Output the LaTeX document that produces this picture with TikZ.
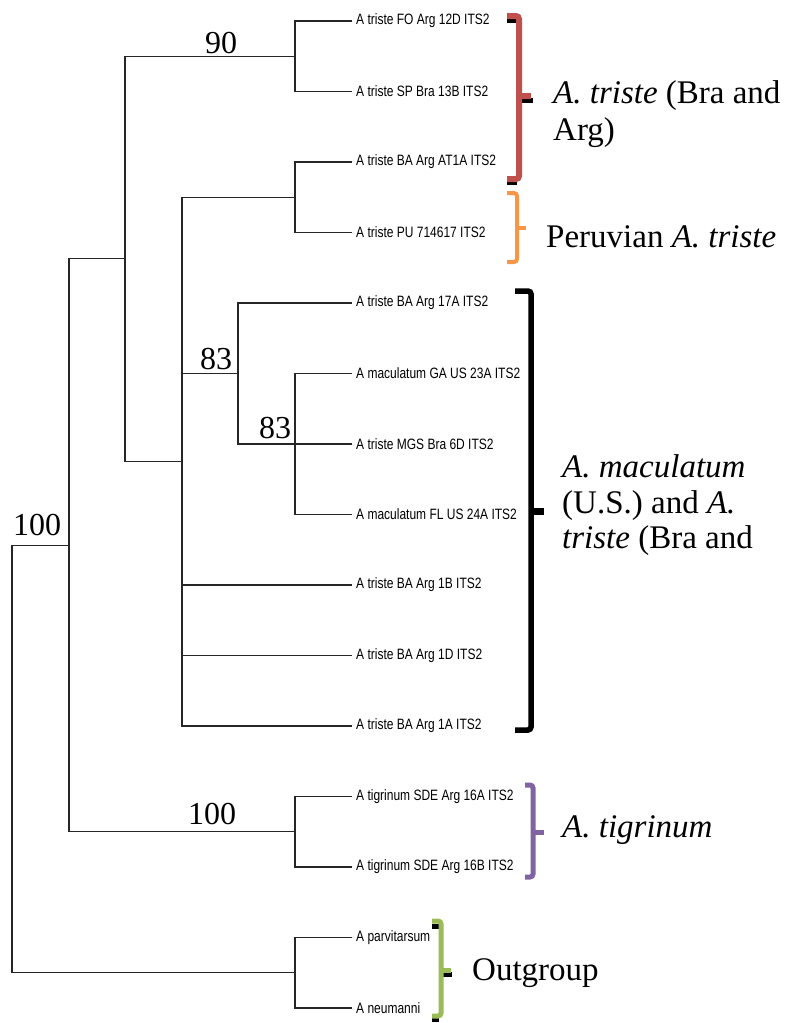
\documentclass[tikz,border=0pt]{standalone}
\usepackage{fontspec}
\setmainfont{Liberation Serif}
\newfontfamily\leaffont[FakeStretch=0.8]{Liberation Sans}
\definecolor{cred}{HTML}{C0504D}
\definecolor{corange}{HTML}{F79646}
\definecolor{cpurple}{HTML}{8064A2}
\definecolor{cgreen}{HTML}{9BBB59}
\tikzset{
  branch/.style={line width=1.1pt, draw=black!85},
  leaf/.style={anchor=west, inner sep=4pt, font=\leaffont\fontsize{15}{18}\selectfont},
  support/.style={anchor=base west, inner sep=0pt, font=\fontsize{32}{36}\selectfont},
  grouplabel/.style={anchor=base west, inner sep=0pt, font=\fontsize{33}{37}\selectfont},
  brk/.style={line width=5pt, rounded corners=3pt},
  shadowbrk/.style={brk, draw=black, yshift=-3pt}
}
\begin{document}
\begin{tikzpicture}[x=1pt,y=-1pt]
\useasboundingbox (0,0) rectangle (788,1023);
% leaves
\node[leaf] (l1)  at (352,21)    {A triste FO Arg 12D ITS2};
\node[leaf] (l2)  at (352,91.5)  {A triste SP Bra 13B ITS2};
\node[leaf] (l3)  at (352,162)   {A triste BA Arg AT1A ITS2};
\node[leaf] (l4)  at (352,232.5) {A triste PU 714617 ITS2};
\node[leaf] (l5)  at (352,303)   {A triste BA Arg 17A ITS2};
\node[leaf] (l6)  at (352,373.5) {A maculatum GA US 23A ITS2};
\node[leaf] (l7)  at (352,444)   {A triste MGS Bra 6D ITS2};
\node[leaf] (l8)  at (352,514.5) {A maculatum FL US 24A ITS2};
\node[leaf] (l9)  at (352,585)   {A triste BA Arg 1B ITS2};
\node[leaf] (l10) at (352,655.5) {A triste BA Arg 1D ITS2};
\node[leaf] (l11) at (352,726)   {A triste BA Arg 1A ITS2};
\node[leaf] (l12) at (352,796.5) {A tigrinum SDE Arg 16A ITS2};
\node[leaf] (l13) at (352,867)   {A tigrinum SDE Arg 16B ITS2};
\node[leaf] (l14) at (352,937.5) {A parvitarsum};
\node[leaf] (l15) at (352,1008)  {A neumanni};
% internal nodes
\coordinate (n12)  at (295,56.25);
\coordinate (n34)  at (295,197.25);
\coordinate (n678) at (295,444);
\coordinate (nC)   at (238,373.5);
\coordinate (nB)   at (182,461.6);
\coordinate (nA)   at (125,258.9);
\coordinate (nTig) at (295,831.75);
\coordinate (nD)   at (69,545.3);
\coordinate (nOut) at (295,972.75);
\coordinate (root) at (12,759);
% branches
\draw[branch] (n12) |- (l1.west);
\draw[branch] (n12) |- (l2.west);
\draw[branch] (n34) |- (l3.west);
\draw[branch] (n34) |- (l4.west);
\draw[branch] (n678) |- (l6.west);
\draw[branch] (n678) |- (l7.west);
\draw[branch] (n678) |- (l8.west);
\draw[branch] (nC) |- (l5.west);
\draw[branch] (nC) |- (n678);
\draw[branch] (nB) |- (n34);
\draw[branch] (nB) |- (nC);
\draw[branch] (nB) |- (l9.west);
\draw[branch] (nB) |- (l10.west);
\draw[branch] (nB) |- (l11.west);
\draw[branch] (nA) |- (n12);
\draw[branch] (nA) |- (nB);
\draw[branch] (nTig) |- (l12.west);
\draw[branch] (nTig) |- (l13.west);
\draw[branch] (nD) |- (nA);
\draw[branch] (nD) |- (nTig);
\draw[branch] (nOut) |- (l14.west);
\draw[branch] (nOut) |- (l15.west);
\draw[branch] (root) |- (nD);
\draw[branch] (root) |- (nOut);
% support values
\node[support] (s90)   at (205,53)  {90};
\node[support] (s83a)  at (200,369) {83};
\node[support] (s83b)  at (259,438) {83};
\node[support] (s100a) at (188,824) {100};
\node[support] (s100b) at (13,535)  {100};
% brackets
% red
\draw[shadowbrk] (507,17) -- (517,17);
\draw[shadowbrk] (521,97) -- (533,97);
\draw[shadowbrk] (507,179) -- (517,179);
\draw[brk, cred, line width=6pt] (507,16) -- (519,16) -- (519,179) -- (507,179);
\draw[brk, cred, line width=6pt] (519,96) -- (531,96);
% orange
\draw[brk, corange, line width=4pt] (507,193) -- (517,193) -- (517,262) -- (507,262);
\draw[brk, corange, line width=4pt] (517,228) -- (526,228);
% black
\draw[brk, black, line width=5.5pt] (515,291) -- (531,291) -- (531,730) -- (515,730);
\draw[brk, black, line width=7pt] (531,511) -- (544,511);
% purple
\draw[brk, cpurple] (525,785) -- (533,785) -- (533,877) -- (525,877);
\draw[brk, cpurple] (533,832) -- (544,832);
% green
\draw[shadowbrk] (432,923) -- (439,923);
\draw[shadowbrk] (442,971) -- (452,971);
\draw[shadowbrk] (432,1016) -- (439,1016);
\draw[brk, cgreen] (432,921) -- (441,921) -- (441,1016) -- (432,1016);
\draw[brk, cgreen] (441,970) -- (451,970);
% group labels
\node[grouplabel] (gt1) at (553,103) {\textit{A. triste} (Bra and};
\node[grouplabel] (gt2) at (553,140) {Arg)};
\begin{scope}
\clip (540,200) rectangle (788,248);
\node[grouplabel] (gp) at (546,247) {Peruvian \textit{A. triste}};
\end{scope}
\node[grouplabel] (gm1) at (562,477) {\textit{A. maculatum}};
\node[grouplabel] (gm2) at (562,513) {(U.S.) and \textit{A.}};
\node[grouplabel] (gm3) at (562,548) {\textit{triste} (Bra and};
\node[grouplabel] (gtg) at (562,837) {\textit{A. tigrinum}};
\node[grouplabel] (gog) at (472,980) {Outgroup};
\end{tikzpicture}
\end{document}
